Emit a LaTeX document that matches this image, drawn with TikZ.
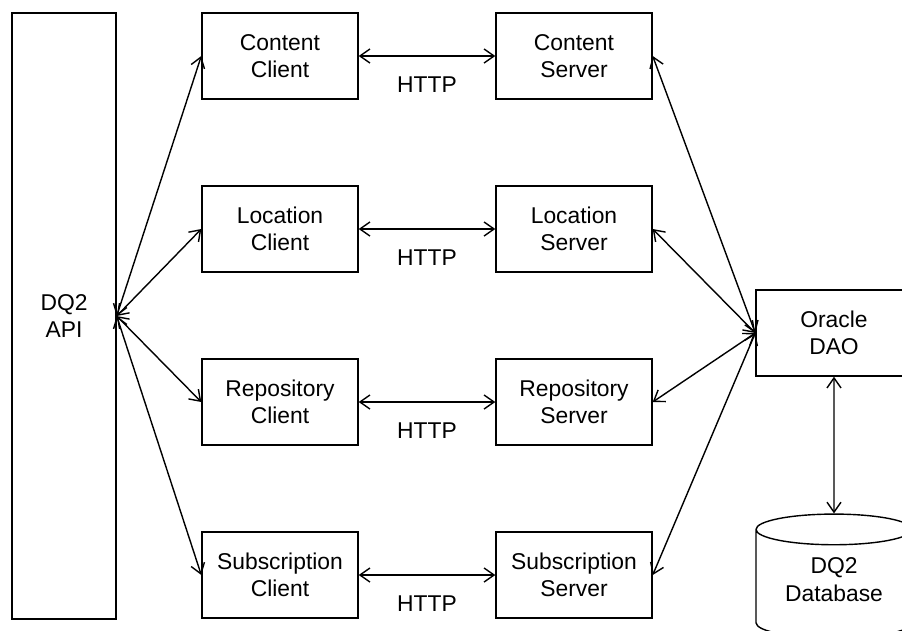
\documentclass[tikz,border=0pt]{standalone}
\usepackage{fontspec}
\setmainfont{Liberation Sans}
\usetikzlibrary{arrows.meta,shapes.geometric}

\begin{document}
\begin{tikzpicture}[line width=0.8pt,every node/.style={font=\fontsize{13}{15.4}\selectfont}]
\tikzstyle{api}=[draw,align=center,minimum width=2.08cm,minimum height=12.12cm];
\tikzstyle{comp}=[draw,align=center,minimum width=3.12cm,minimum height=1.72cm];
\tikzstyle{db}=[draw,cylinder,shape border rotate=90,aspect=0.28,align=center,text depth=0.3cm,minimum width=3.12cm,minimum height=2.48cm];
\tikzstyle{link}=[{Straight Barb[length=2mm,width=2.8mm]}-{Straight Barb[length=2mm,width=2.8mm]}];
\tikzstyle{http}=[below=8pt];

\useasboundingbox (0,0) rectangle (18.04,-12.6);

\node [api] (v1) at (1.28,-6.32) {DQ2\\API};

\node [comp] (v2) at (5.6,-1.12) {Content\\Client};
\node [comp] (v3) at (11.48,-1.12) {Content\\Server};
\draw [link] (v2) -- node[http] {HTTP} (v3);

\node [comp] (v4) at (5.6,-4.58) {Location\\Client};
\node [comp] (v5) at (11.48,-4.58) {Location\\Server};
\draw [link] (v4) -- node[http] {HTTP} (v5);

\node [comp] (v6) at (5.6,-8.04) {Repository\\Client};
\node [comp] (v7) at (11.48,-8.04) {Repository\\Server};
\draw [link] (v6) -- node[http] {HTTP} (v7);

\node [comp] (v8) at (5.6,-11.5) {Subscription\\Client};
\node [comp] (v9) at (11.48,-11.5) {Subscription\\Server};
\draw [link] (v8) -- node[http] {HTTP} (v9);

%%

\draw [link] (v1.east) -- (v2.west);
\draw [link] (v1.east) -- (v4.west);
\draw [link] (v1.east) -- (v6.west);
\draw [link] (v1.east) -- (v8.west);

%%

\node [comp] (v10) at (16.68,-6.66) {Oracle\\DAO};
\draw [link] (v3.east) -- (v10.west);
\draw [link] (v5.east) -- (v10.west);
\draw [link] (v7.east) -- (v10.west);
\draw [link] (v9.east) -- (v10.west);

\node [db] (v11) at (16.68,-11.74) {DQ2\\Database};
\draw [link] (v10) -- (v11);
\end{tikzpicture}
\end{document}
